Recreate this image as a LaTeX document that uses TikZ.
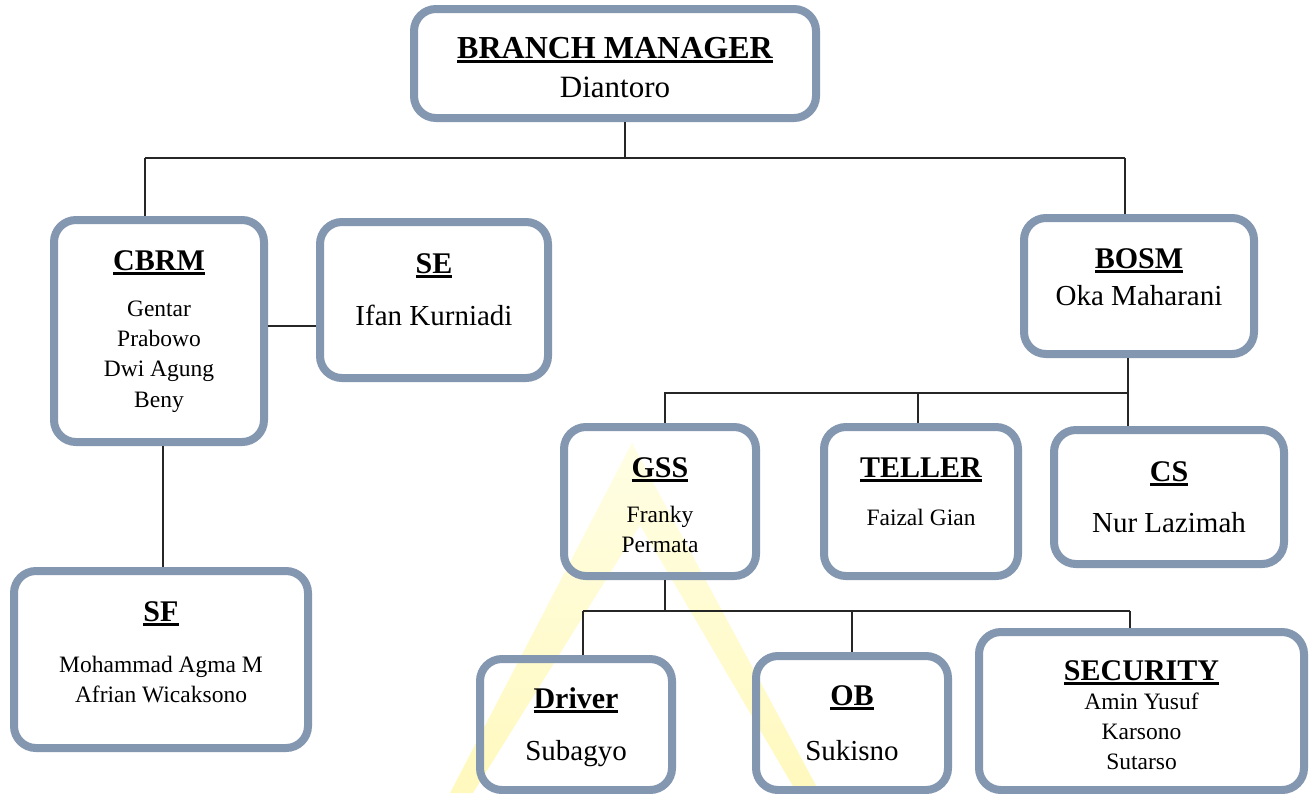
\documentclass[tikz,border=0pt]{standalone}
\usepackage{fontspec}
\setmainfont{Liberation Serif}
\definecolor{boxc}{RGB}{132,151,176}
\definecolor{wmbot}{RGB}{255,249,190}
\definecolor{wmtop}{RGB}{255,254,228}
\newcommand\uln[1]{\setbox0\hbox{#1}\rlap{\rule[-4.5pt]{\wd0}{2.4pt}}\box0}
\begin{document}
\begin{tikzpicture}[x=1pt,y=-1pt,
  box/.style={draw=boxc, line width=8pt, rounded corners=22pt, inner sep=0pt},
  conn/.style={draw=black!85, line width=1.3pt},
  wmark/.style={top color=wmtop, bottom color=wmbot},
  bmhd/.style={anchor=base, inner sep=0pt, font=\fontsize{32}{38}\selectfont\bfseries},
  hd/.style={anchor=base, inner sep=0pt, font=\fontsize{30}{36}\selectfont\bfseries},
  nm/.style={anchor=base, inner sep=0pt, font=\fontsize{29}{34}\selectfont},
  sm/.style={anchor=base, inner sep=0pt, font=\fontsize{23.5}{28}\selectfont}]
\useasboundingbox (0,0) rectangle (1314,793);
\fill[white] (0,0) rectangle (1314,793);
% watermark
\shade[wmark] (632,443) -- (450,793) -- (473,793) -- (640,525) -- cycle;
\shade[wmark] (632,443) -- (640,525) -- (797,793) -- (820,793) -- cycle;
% boxes
\node[box, minimum width=402pt, minimum height=109pt] (bm) at (615,63.5) {};
\node[box, minimum width=210pt, minimum height=222pt] (cbrm) at (159,331) {};
\node[box, minimum width=228pt, minimum height=156pt] (se) at (434,300) {};
\node[box, minimum width=294pt, minimum height=177pt] (sf) at (161,659.5) {};
\node[box, minimum width=230pt, minimum height=136pt] (bosm) at (1139,286) {};
\node[box, minimum width=192pt, minimum height=149pt] (gss) at (660,501.5) {};
\node[box, minimum width=194pt, minimum height=149pt] (teller) at (921,501.5) {};
\node[box, minimum width=230pt, minimum height=134pt] (cs) at (1169,497) {};
\node[box, minimum width=192pt, minimum height=131pt] (driver) at (576,724.5) {};
\node[box, minimum width=192pt, minimum height=134pt] (ob) at (852,723) {};
\node[box, minimum width=325pt, minimum height=158pt] (sec) at (1141.5,711) {};
% connectors
\coordinate (hA) at (145,158);
\coordinate (hB) at (1125,158);
\draw[conn] ([xshift=10pt]bm.south) -- ([xshift=10pt]bm.south |- hA);
\draw[conn] (hA) -- (hB);
\draw[conn] (hA) -- (hA |- cbrm.north);
\draw[conn] (hB) -- (hB |- bosm.north);
\draw[conn] ([yshift=5pt]cbrm.east) -- ([yshift=5pt]cbrm.east -| se.west);
\draw[conn] ([xshift=4pt]cbrm.south) -- ([xshift=4pt]cbrm.south |- sf.north);
\coordinate (hC) at (665,393);
\coordinate (hD) at (1128,393);
\draw[conn] (hD |- bosm.south) -- (hD) -- (hC) -- (hC |- gss.north);
\draw[conn] (hD) -- (hD |- cs.north);
\draw[conn] ([xshift=-3pt]teller.north |- hC) -- ([xshift=-3pt]teller.north);
\coordinate (hE) at (583,611);
\coordinate (hF) at (1130,611);
\draw[conn] ([xshift=5pt]gss.south) -- ([xshift=5pt]gss.south |- hE);
\draw[conn] (hE) -- (hF);
\draw[conn] (hE) -- (hE |- driver.north);
\draw[conn] (ob.north |- hE) -- (ob.north);
\draw[conn] (hF) -- (hF |- sec.north);
% texts
\node[bmhd] (t1) at (bm.center |- 0,58) {\uln{BRANCH MANAGER}};
\node[nm, font=\fontsize{31}{36}\selectfont] (t2) at (bm.center |- 0,97) {Diantoro};
\node[hd] (t3) at (cbrm.center |- 0,270) {\uln{CBRM}};
\node[sm] (t4) at (cbrm.center |- 0,316) {Gentar};
\node[sm] (t5) at (cbrm.center |- 0,346) {Prabowo};
\node[sm] (t6) at (cbrm.center |- 0,376) {Dwi Agung};
\node[sm] (t7) at (cbrm.center |- 0,407) {Beny};
\node[hd] (t8) at (se.center |- 0,273) {\uln{SE}};
\node[nm] (t9) at (se.center |- 0,325) {Ifan Kurniadi};
\node[hd] (t10) at (sf.center |- 0,621) {\uln{SF}};
\node[sm] (t11) at (sf.center |- 0,672) {Mohammad Agma M};
\node[sm] (t12) at (sf.center |- 0,702) {Afrian Wicaksono};
\node[hd] (t13) at (bosm.center |- 0,268) {\uln{BOSM}};
\node[nm] (t14) at (bosm.center |- 0,305) {Oka Maharani};
\node[hd] (t15) at (gss.center |- 0,477) {\uln{GSS}};
\node[sm] (t16) at (gss.center |- 0,522) {Franky};
\node[sm] (t17) at (gss.center |- 0,552) {Permata};
\node[hd] (t18) at (teller.center |- 0,477) {\uln{TELLER}};
\node[sm] (t19) at (teller.center |- 0,525) {Faizal Gian};
\node[hd] (t20) at (cs.center |- 0,481) {\uln{CS}};
\node[nm] (t21) at (cs.center |- 0,532) {Nur Lazimah};
\node[hd] (t22) at (driver.center |- 0,708) {\uln{Driver}};
\node[nm] (t23) at (driver.center |- 0,760) {Subagyo};
\node[hd] (t24) at (ob.center |- 0,705) {\uln{OB}};
\node[nm] (t25) at (ob.center |- 0,760) {Sukisno};
\node[hd] (t26) at (sec.center |- 0,680) {\uln{SECURITY}};
\node[sm] (t27) at (sec.center |- 0,709) {Amin Yusuf};
\node[sm] (t28) at (sec.center |- 0,739) {Karsono};
\node[sm] (t29) at (sec.center |- 0,769) {Sutarso};
\end{tikzpicture}
\end{document}
